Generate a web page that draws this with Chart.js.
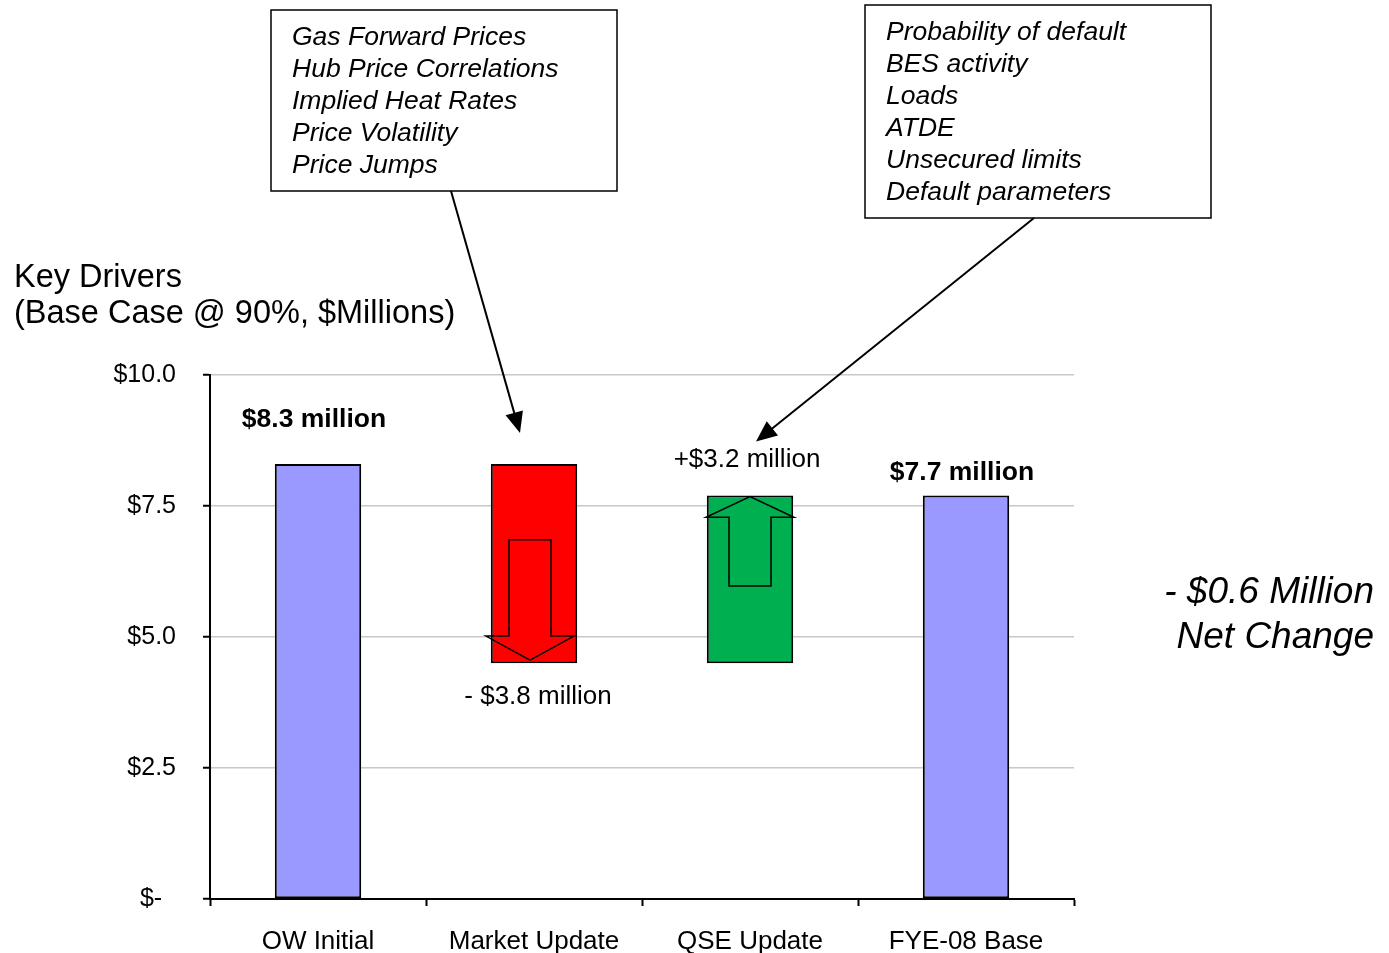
<!DOCTYPE html>
<html>
<head>
<meta charset="utf-8">
<title>Key Drivers</title>
<script src="https://cdn.jsdelivr.net/npm/chart.js@4/dist/chart.umd.min.js"></script>
<style>
  html, body { margin: 0; padding: 0; background: #fff; }
  canvas { display: block; }
</style>
</head>
<body>
<canvas id="chartjs-0" width="1389" height="953"></canvas>
<script>
"use strict";

// categories and bar ranges ($ millions)
var categories = ["OW Initial", "Market Update", "QSE Update", "FYE-08 Base"];
var barLows  = [0, 4.5, 4.5, 0];
var barHighs = [8.3, 8.3, 7.7, 7.7];
var barColors = ["#9999ff", "#ff0000", "#00b050", "#9999ff"];

var yTickValues = [0, 2.5, 5.0, 7.5, 10.0];

var marketDrivers = ["Gas Forward Prices", "Hub Price Correlations", "Implied Heat Rates",
                     "Price Volatility", "Price Jumps"];
var qseDrivers = ["Probability of default", "BES activity", "Loads", "ATDE",
                  "Unsecured limits", "Default parameters"];

var titleLines = ["Key Drivers", "(Base Case @ 90%, $Millions)"];
var netChangeLines = ["- $0.6 Million", "Net Change"];

var FONT = "'Liberation Sans', Arial, sans-serif";

var barData = [];
for (var i = 0; i < categories.length; i++) {
    barData.push([barLows[i], barHighs[i]]);
}

function money(v) {
    return "$" + Math.abs(v).toFixed(1);
}

// label text, style and offset for each bar
function barLabel(i) {
    var change = barHighs[i] - barLows[i];
    if (i === 0) {
        return { text: money(barHighs[i]) + " million", bold: true, anchor: "top", dy: -44, dx: -4 };
    }
    if (i === categories.length - 1) {
        return { text: money(barHighs[i]) + " million", bold: true, anchor: "top", dy: -23, dx: -4 };
    }
    if (i === 1) {
        return { text: "- " + money(change) + " million", bold: false, anchor: "bottom", dy: 34, dx: 4 };
    }
    return { text: "+" + money(change) + " million", bold: false, anchor: "top", dy: -36, dx: -3 };
}

function arrowHead(ctx, x0, y0, x1, y1, len, half) {
    var a = Math.atan2(y1 - y0, x1 - x0);
    ctx.beginPath();
    ctx.moveTo(x1, y1);
    ctx.lineTo(x1 - len * Math.cos(a) + half * Math.sin(a), y1 - len * Math.sin(a) - half * Math.cos(a));
    ctx.lineTo(x1 - len * Math.cos(a) - half * Math.sin(a), y1 - len * Math.sin(a) + half * Math.cos(a));
    ctx.closePath();
    ctx.fill();
}

function leader(ctx, x0, y0, x1, y1) {
    var a = Math.atan2(y1 - y0, x1 - x0);
    ctx.beginPath();
    ctx.moveTo(x0, y0);
    ctx.lineTo(x1 - 14 * Math.cos(a), y1 - 14 * Math.sin(a));
    ctx.stroke();
    arrowHead(ctx, x0, y0, x1, y1, 21, 9);
}

function callout(ctx, left, top, w, h, lines, firstY) {
    ctx.strokeRect(left, top, w, h);
    ctx.font = "italic 26.5px " + FONT;
    ctx.textAlign = "left";
    ctx.textBaseline = "middle";
    for (var k = 0; k < lines.length; k++) {
        ctx.fillText(lines[k], left + 21, firstY + k * 32);
    }
}

var annotations = {
    id: "annotations",
    afterDatasetsDraw: function(chart) {
        var ctx = chart.ctx;
        var meta = chart.getDatasetMeta(0);
        var y = chart.scales.y;
        ctx.save();
        ctx.strokeStyle = "#000";
        ctx.lineWidth = 1.5;

        // down arrow inside the market bar
        var m = meta.data[1];
        var top = y.getPixelForValue(barHighs[1]);
        var bot = y.getPixelForValue(barLows[1]);
        var h = bot - top;
        var cx = m.x - 4;
        ctx.beginPath();
        ctx.moveTo(cx - 21, top + h * 0.38);
        ctx.lineTo(cx + 21, top + h * 0.38);
        ctx.lineTo(cx + 21, top + h * 0.864);
        ctx.lineTo(cx + 44, top + h * 0.864);
        ctx.lineTo(cx, top + h * 0.985);
        ctx.lineTo(cx - 44, top + h * 0.864);
        ctx.lineTo(cx - 21, top + h * 0.864);
        ctx.closePath();
        ctx.stroke();

        // up arrow inside the QSE bar
        var q = meta.data[2];
        top = y.getPixelForValue(barHighs[2]);
        bot = y.getPixelForValue(barLows[2]);
        h = bot - top;
        cx = q.x;
        ctx.beginPath();
        ctx.moveTo(cx - 21, top + h * 0.54);
        ctx.lineTo(cx + 21, top + h * 0.54);
        ctx.lineTo(cx + 21, top + h * 0.13);
        ctx.lineTo(cx + 44, top + h * 0.13);
        ctx.lineTo(cx, top + h * 0.006);
        ctx.lineTo(cx - 44, top + h * 0.13);
        ctx.lineTo(cx - 21, top + h * 0.13);
        ctx.closePath();
        ctx.stroke();

        // value labels
        ctx.fillStyle = "#000";
        ctx.textAlign = "center";
        ctx.textBaseline = "middle";
        for (var i = 0; i < categories.length; i++) {
            var lb = barLabel(i);
            var el = meta.data[i];
            var base = lb.anchor === "top" ? y.getPixelForValue(barHighs[i]) : y.getPixelForValue(barLows[i]);
            ctx.font = (lb.bold ? "bold 26.5px " : "26px ") + FONT;
            ctx.fillText(lb.text, el.x + lb.dx, base + lb.dy);
        }
        ctx.restore();
    },
    afterDraw: function(chart) {
        var ctx = chart.ctx;
        var meta = chart.getDatasetMeta(0);
        var y = chart.scales.y;
        ctx.save();
        ctx.fillStyle = "#000";
        ctx.strokeStyle = "#000";

        // title
        ctx.font = "32.5px " + FONT;
        ctx.textAlign = "left";
        ctx.textBaseline = "middle";
        ctx.fillText(titleLines[0], 14, 278);
        ctx.fillText(titleLines[1], 14, 314);

        // net change note
        ctx.font = "italic 37px " + FONT;
        ctx.textAlign = "right";
        ctx.fillText(netChangeLines[0], 1374, 593);
        ctx.fillText(netChangeLines[1], 1374, 638);

        // driver callouts
        ctx.lineWidth = 1.5;
        callout(ctx, 271, 10, 346, 181, marketDrivers, 38);
        callout(ctx, 865, 5, 346, 213, qseDrivers, 33);

        // leader arrows from callouts to bars
        ctx.lineWidth = 2;
        var m = meta.data[1];
        leader(ctx, 451, 191, m.x - 14, y.getPixelForValue(barHighs[1]) - 31);
        var q = meta.data[2];
        leader(ctx, 1034, 218, q.x + 6, y.getPixelForValue(barHighs[2]) - 54);
        ctx.restore();
    }
};

var ctx0 = document.getElementById("chartjs-0");
var myChart = new Chart(ctx0, {
    type: "bar",
    data: {
        labels: categories,
        datasets: [{
            label: "Key Drivers",
            data: barData,
            backgroundColor: barColors,
            borderColor: "#000",
            borderWidth: 2,
            borderSkipped: false,
            barPercentage: 0.4,
            categoryPercentage: 1.0
        }]
    },
    options: {
        responsive: false,
        animation: false,
        layout: { padding: { left: 0, right: 315, top: 375, bottom: 0 } },
        plugins: {
            legend: { display: false },
            tooltip: { enabled: false }
        },
        scales: {
            x: {
                afterFit: function(scale) { scale.height = 54; },
                grid: {
                    offset: true,
                    drawOnChartArea: false,
                    drawTicks: true,
                    tickLength: 7,
                    tickColor: "#000",
                    tickWidth: 2
                },
                border: { color: "#000", width: 2 },
                ticks: {
                    color: "#000",
                    padding: 20,
                    font: { family: FONT, size: 26 }
                }
            },
            y: {
                min: 0,
                max: 10,
                afterFit: function(scale) { scale.width = 210; },
                afterBuildTicks: function(scale) {
                    scale.ticks = yTickValues.map(function(v) { return { value: v }; });
                },
                grid: {
                    color: function(c) { return c.tick && c.tick.value === 0 ? "#000" : "#c8c8c8"; },
                    lineWidth: 1.5,
                    tickLength: 7,
                    tickColor: "#000",
                    tickWidth: 2
                },
                border: { color: "#000", width: 2 },
                ticks: {
                    color: "#000",
                    padding: 27,
                    font: { family: FONT, size: 25 },
                    callback: function(v) { return v === 0 ? "$-  " : "$" + Number(v).toFixed(1); }
                }
            }
        }
    },
    plugins: [annotations]
});
</script>
</body>
</html>
